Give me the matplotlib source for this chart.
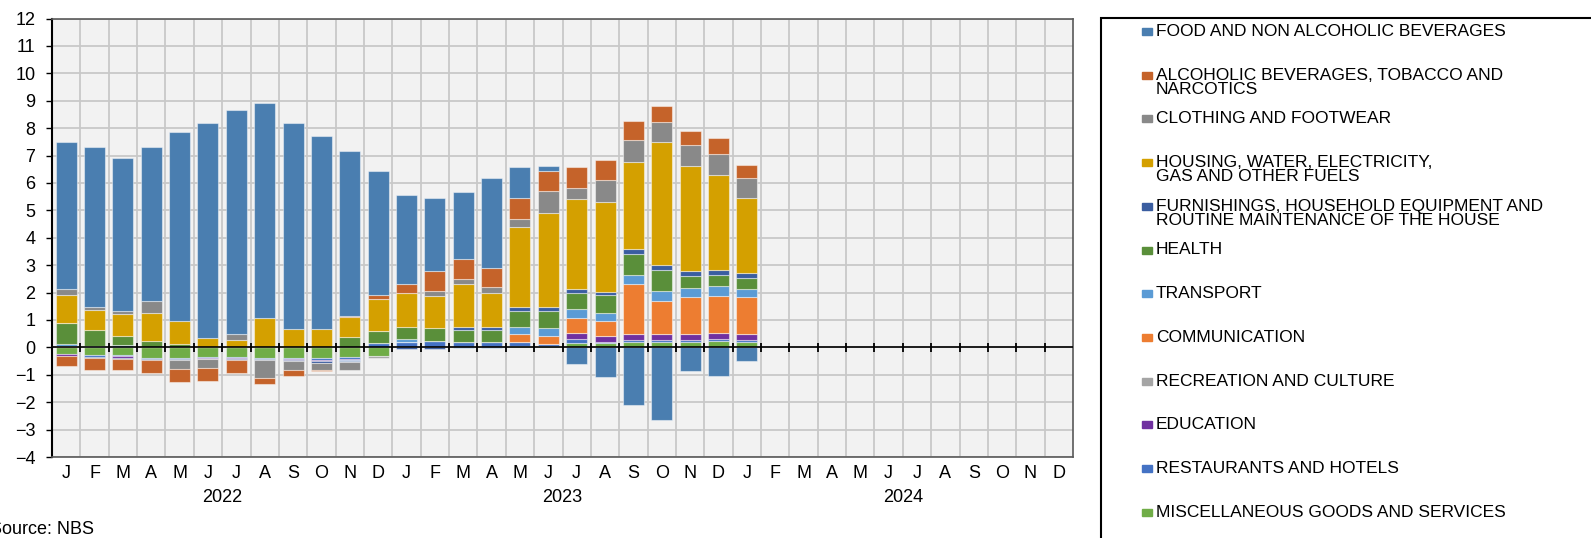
import numpy as np
import matplotlib
matplotlib.use("Agg")
import matplotlib.pyplot as plt
from matplotlib.patches import Rectangle

plt.rcParams['font.family'] = ['Liberation Sans', 'DejaVu Sans']

# Jan 2022 .. Jan 2024, contributions (pp)
food = [5.36, 5.84, 5.59, 5.6, 6.92, 7.85, 8.18, 7.84, 7.53, 7.05, 6.0, 4.52,
        3.24, 2.69, 2.46, 3.29, 1.13, 0.18, -0.62, -1.07, -2.09, -2.65, -0.88, -1.06, -0.5]
alcohol = [-0.37, -0.44, -0.41, -0.46, -0.45, -0.45, -0.47, -0.22, -0.19, -0.05, 0.05, 0.15,
           0.34, 0.72, 0.71, 0.69, 0.76, 0.76, 0.79, 0.72, 0.70, 0.57, 0.53, 0.57, 0.47]
clothing = [0.2, 0.1, 0.1, 0.45, -0.34, -0.33, 0.2, -0.66, -0.33, -0.27, -0.27, 0.0,
            0.0, 0.16, 0.19, 0.24, 0.27, 0.8, 0.37, 0.79, 0.79, 0.74, 0.74, 0.79, 0.73]
housing = [1.02, 0.75, 0.79, 1.02, 0.82, 0.32, 0.27, 1.06, 0.67, 0.67, 0.71, 1.14,
           1.22, 1.17, 1.58, 1.22, 2.93, 3.42, 3.29, 3.29, 3.18, 4.49, 3.84, 3.47, 2.76]
furnishings = [0, -0.05, -0.03, -0.04, -0.04, -0.03, -0.03, -0.03, -0.05, -0.08, -0.04, 0,
               -0.05, -0.05, 0.1, 0.1, 0.15, 0.15, 0.15, 0.13, 0.18, 0.17, 0.18, 0.18, 0.18]
health = [0.77, 0.56, 0.35, 0.23, 0.13, 0, 0, 0, 0, 0, 0.39, 0.45,
          0.46, 0.49, 0.45, 0.46, 0.57, 0.63, 0.6, 0.63, 0.79, 0.8, 0.43, 0.38, 0.39]
transport = [0.07, 0.06, 0.07, 0, 0, 0.03, 0, 0, 0, 0, -0.04, 0,
             0.1, 0, -0.03, -0.03, 0.26, 0.27, 0.3, 0.29, 0.33, 0.34, 0.36, 0.36, 0.29]
communication = [0.06, 0, 0, 0, 0, 0, 0, 0, 0, 0, 0, 0,
                 0, 0, 0, 0, 0.3, 0.3, 0.57, 0.55, 1.82, 1.22, 1.34, 1.37, 1.36]
recreation = [0, 0, 0, 0, 0, 0, 0, 0, 0, 0, 0, -0.06,
              0, 0, 0, 0, 0, 0, 0, 0, 0, 0, 0, 0, 0]
education = [-0.07, 0, -0.07, 0, 0, -0.03, -0.04, -0.03, -0.03, -0.03, -0.04, 0,
             0, 0, 0, 0, 0, 0, 0.2, 0.22, 0.22, 0.22, 0.22, 0.22, 0.22]
restaurants = [0, -0.06, -0.03, -0.04, -0.04, -0.03, -0.03, -0.03, -0.05, -0.07, -0.06, 0.16,
               0.19, 0.23, 0.19, 0.19, 0.15, 0.07, 0.17, 0.06, 0.07, 0.07, 0.07, 0.06, 0.07]
misc = [-0.24, -0.29, -0.29, -0.38, -0.38, -0.35, -0.36, -0.38, -0.38, -0.38, -0.36, -0.32,
        0, 0, 0, 0, 0.05, 0.05, 0.15, 0.15, 0.19, 0.19, 0.19, 0.24, 0.19]

labels = ["FOOD AND NON ALCOHOLIC BEVERAGES",
          "ALCOHOLIC BEVERAGES, TOBACCO AND\nNARCOTICS",
          "CLOTHING AND FOOTWEAR",
          "HOUSING, WATER, ELECTRICITY,\nGAS AND OTHER FUELS",
          "FURNISHINGS, HOUSEHOLD EQUIPMENT AND\nROUTINE MAINTENANCE OF THE HOUSE",
          "HEALTH",
          "TRANSPORT",
          "COMMUNICATION",
          "RECREATION AND CULTURE",
          "EDUCATION",
          "RESTAURANTS AND HOTELS",
          "MISCELLANEOUS GOODS AND SERVICES"]
series = [food, alcohol, clothing, housing, furnishings, health, transport,
          communication, recreation, education, restaurants, misc]
colors = ['#4A7EB0', '#C5632A', '#898989', '#D4A000', '#3A5DA0', '#5A8F3A',
          '#5B9BD5', '#ED7D31', '#A5A5A5', '#7030A0', '#4472C4', '#70AD47']

months = ['J', 'F', 'M', 'A', 'M', 'J', 'J', 'A', 'S', 'O', 'N', 'D'] * 3
years = ['2022', '2023', '2024']

W, H = 1591, 538
fig = plt.figure(figsize=(W / 100, H / 100), dpi=100)
ax = fig.add_axes([52 / W, (H - 457) / H, 1021 / W, 438.5 / H])
ax.set_facecolor('#F2F2F2')

x = np.arange(len(food)) + 0.5
pos = np.zeros(len(food))
neg = np.zeros(len(food))
# excel stacks the last series first
for vals, col in reversed(list(zip(series, colors))):
    v = np.array(vals, dtype=float)
    bottom = np.where(v >= 0, pos, neg)
    ax.bar(x, v, width=0.74, bottom=bottom, color=col,
           edgecolor=(1, 1, 1, 0.45), linewidth=0.8, zorder=2)
    pos += np.clip(v, 0, None)
    neg += np.clip(v, None, 0)

ax.set_xlim(0, 36)
ax.set_ylim(-4, 12)
ax.set_yticks(range(-4, 13))
ax.set_xticks(np.arange(36) + 0.5)
ax.set_xticklabels(months, fontsize=13)
ax.set_xticks(np.arange(1, 36), minor=True)
ax.tick_params(axis='x', which='both', length=0, pad=6)
ax.tick_params(axis='y', length=4, width=1, pad=8, labelsize=13, direction='out')
ax.grid(True, which='minor', axis='x', color='#C8C8C8', lw=1.3)
ax.grid(True, which='major', axis='y', color='#C8C8C8', lw=1.3)
ax.set_axisbelow(True)

for s in ['top', 'right', 'bottom']:
    ax.spines[s].set_color('#595959')
    ax.spines[s].set_linewidth(1.2)
ax.spines['left'].set_color('black')
ax.spines['left'].set_linewidth(1.5)

ax.axhline(0, color='black', lw=1.2, zorder=3)
ax.vlines(np.arange(1, 36), -0.16, 0.16, color='black', lw=1.3, zorder=3)

for i, yr in enumerate(years):
    ax.text(i * 12 + 6, -0.093, yr, transform=ax.get_xaxis_transform(),
            ha='center', va='center', fontsize=13)

fig.text(-10 / W, 1 - 530 / H, 'Source: NBS', ha='left', va='center', fontsize=13)

# legend box, runs off the right and bottom edge
fig.patches.append(Rectangle((1100.5 / W, -0.2), 1, 1.2 - 18 / H,
                             transform=fig.transFigure, fill=False,
                             edgecolor='black', lw=1.5, clip_on=False))
for i, (lab, col) in enumerate(zip(labels, colors)):
    yc = 31.5 + 43.7 * i
    fig.patches.append(Rectangle((1142 / W, 1 - (yc + 3.5) / H), 10 / W, 7 / H,
                                 transform=fig.transFigure, color=col))
    fig.text(1156 / W, 1 - (yc - 7.5) / H, lab, ha='left', va='top',
             fontsize=12.5, linespacing=0.93)

fig.savefig('out.png', dpi=100)
